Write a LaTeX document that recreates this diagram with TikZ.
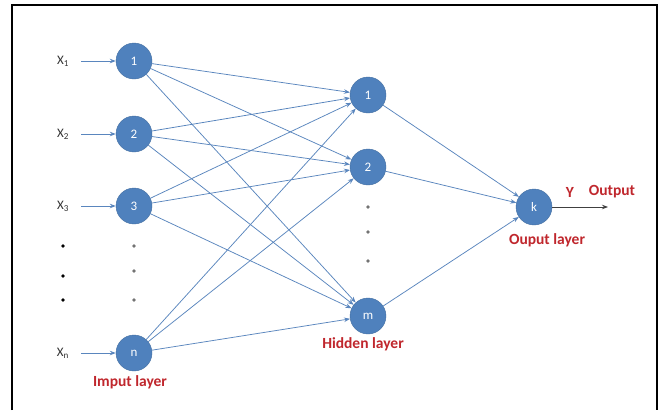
\documentclass[tikz,border=0pt]{standalone}
\usepackage{fontspec}
\setmainfont{Carlito}
\usetikzlibrary{arrows.meta}
\definecolor{nodeblue}{HTML}{4F81BD}
\definecolor{edgeblue}{HTML}{5A86BE}
\definecolor{labelred}{HTML}{C0272D}
\tikzset{
  neuron/.style={circle, fill=nodeblue, draw=nodeblue!85!black, line width=0.4pt, minimum size=36pt, inner sep=0pt, text=white, font=\fontsize{13}{13}\selectfont},
  conn/.style={draw=edgeblue, line width=0.75pt, -{Stealth[length=6pt,width=4.5pt]}},
  inarrow/.style={draw=edgeblue, line width=0.9pt, -{Stealth[length=6pt,width=4.5pt]}},
  outarrow/.style={draw=black!75, line width=0.9pt, -{Stealth[length=6pt,width=4.5pt]}},
  xlabel/.style={text=black!80, font=\fontsize{13}{13}\selectfont, inner sep=1pt},
  layerlabel/.style={text=labelred, font=\bfseries\fontsize{15.5}{15.5}\selectfont, inner sep=1pt},
  bdot/.style={circle, fill=black, inner sep=0pt, minimum size=3.8pt},
  gdot/.style={circle, fill=black!55, inner sep=0pt, minimum size=3.6pt}
}
\begin{document}
\begin{tikzpicture}[x=1pt,y=-1pt]
\useasboundingbox (0,0) rectangle (660,410);
\fill[white] (0,0) rectangle (660,410);
\draw[black, line width=2pt] (12,410) -- (12,5) -- (657,5) -- (657,410);

% input nodes
\node[neuron] (i1) at (134,61) {1};
\node[neuron] (i2) at (134,134) {2};
\node[neuron] (i3) at (134,206) {3};
\node[neuron] (in) at (134,353) {n};
% hidden nodes
\node[neuron] (h1) at (368,95) {1};
\node[neuron] (h2) at (368,167) {2};
\node[neuron] (hm) at (368,316) {m};
% output node
\node[neuron] (k) at (534,207) {k};

% input labels
\node[xlabel] (x1) at (63,61) {X\textsubscript{1}};
\node[xlabel] (x2) at (63,134) {X\textsubscript{2}};
\node[xlabel] (x3) at (63,206) {X\textsubscript{3}};
\node[xlabel] (xn) at (63,353) {X\textsubscript{n}};
\coordinate (x1e) at (81,61);
\coordinate (x2e) at (81,134);
\coordinate (x3e) at (81,206);
\coordinate (xne) at (81,353);
\draw[inarrow] (x1e) -- (i1);
\draw[inarrow] (x2e) -- (i2);
\draw[inarrow] (x3e) -- (i3);
\draw[inarrow] (xne) -- (in);

% dots
\node[bdot] (ld1) at (63,246) {};
\node[bdot] (ld2) at (63,276) {};
\node[bdot] (ld3) at (63,300) {};
\node[gdot] (md1) at (134,246) {};
\node[gdot] (md2) at (134,271) {};
\node[gdot] (md3) at (134,300) {};
\node[gdot] (hd1) at (368,207) {};
\node[gdot] (hd2) at (368,232) {};
\node[gdot] (hd3) at (368,261) {};

% connections input -> hidden
\foreach \a in {i1,i2,i3,in}{
  \foreach \b in {h1,h2,hm}{
    \draw[conn] (\a) -- (\b);
  }
}
% hidden -> output
\foreach \b in {h1,h2,hm}{
  \draw[conn] (\b) -- (k);
}
% output arrow
\coordinate (oute) at (608,207);
\draw[outarrow] (k) -- (oute);

% labels
\node[layerlabel] (ylab) at (570,192) {Y};
\node[layerlabel] (outlab) at (612,192) {Output};
\node[layerlabel] (ilab) at (130,382) {Imput layer};
\node[layerlabel] (hlab) at (363,344) {Hidden layer};
\node[layerlabel] (olab) at (547,240) {Ouput layer};
\end{tikzpicture}
\end{document}
